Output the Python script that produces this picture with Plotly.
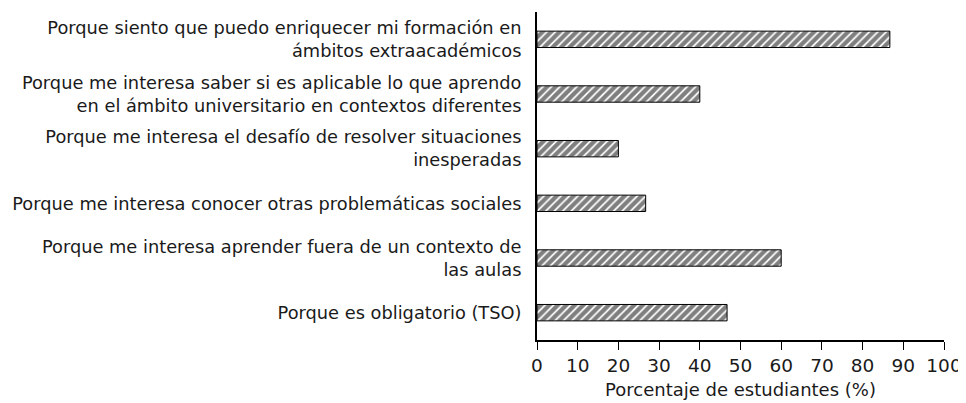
import plotly.graph_objects as go

categories = [
    "Porque siento que puedo enriquecer mi formación en<br>ámbitos extraacadémicos",
    "Porque me interesa saber si es aplicable lo que aprendo<br>en el ámbito universitario en contextos diferentes",
    "Porque me interesa el desafío de resolver situaciones<br>inesperadas",
    "Porque me interesa conocer otras problemáticas sociales",
    "Porque me interesa aprender fuera de un contexto de<br>las aulas",
    "Porque es obligatorio (TSO)",
]
values = [86.7, 40.0, 20.0, 26.7, 60.0, 46.7]
tick_vals = [0, 10, 20, 30, 40, 50, 60, 70, 80, 90, 100]

fig = go.Figure(go.Bar(
    x=values, y=categories, orientation="h",
    marker=dict(color="white", line=dict(color="black", width=1),
                pattern=dict(shape="/", fgcolor="black", bgcolor="white", size=6, solidity=0.7)),
    width=0.3,
))

fig.update_layout(
    width=966, height=403,
    margin=dict(l=529, r=30, t=4, b=71, autoexpand=False),
    plot_bgcolor="white", paper_bgcolor="white",
    font=dict(family="DejaVu Sans, sans-serif", size=18, color="#1a1a1a"),
    showlegend=False,
)
fig.update_xaxes(range=[0, 100], tickvals=tick_vals, ticks="outside", ticklen=8,
                 tickcolor="black", showline=True, linecolor="black", linewidth=1.5,
                 showgrid=False, zeroline=False, automargin=False,
                 tickfont=dict(size=18.5),
                 title=dict(text="Porcentaje de estudiantes (%)", standoff=8, font=dict(size=18)))
fig.update_yaxes(categoryorder="array", categoryarray=categories[::-1],
                 autorange=False, range=[-0.5, 5.5], automargin=False,
                 showline=True, linecolor="black", linewidth=2, showgrid=False,
                 ticks="", ticklabelstandoff=10, tickfont=dict(size=17.8))

fig.write_html("out.html")
